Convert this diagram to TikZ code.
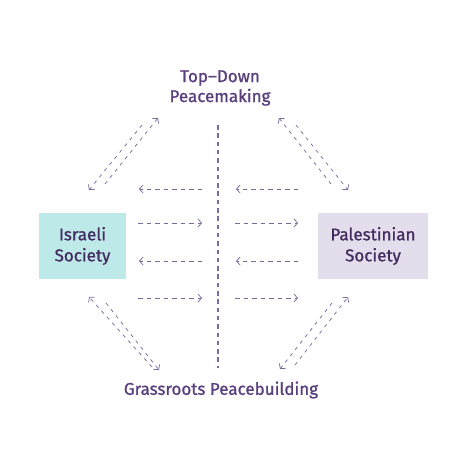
\documentclass[tikz,border=0pt]{standalone}
\usepackage{fontspec}
\setmainfont{Fira Sans}[FakeBold=1.1]
\usetikzlibrary{arrows.meta}
\definecolor{txtpurple}{HTML}{5A3F7E}
\definecolor{boxtxt}{HTML}{432C60}
\definecolor{arrpurple}{HTML}{7C6A9E}
\definecolor{cyanbox}{HTML}{BEE9E9}
\definecolor{lavbox}{HTML}{E4DEEC}
\tikzset{
  lbl/.style={text=txtpurple, font=\fontsize{17}{20}\selectfont, align=center, inner sep=0pt},
  society/.style={text=boxtxt, font=\fontsize{17}{21}\selectfont, align=center, minimum height=66pt, inner sep=0pt},
  flow/.style={draw=arrpurple, line width=0.75pt, dash pattern=on 4.5pt off 4pt, -{Straight Barb[length=3.5pt,width=8pt,line width=0.75pt]}},
  diag/.style={draw=arrpurple, line width=0.75pt, dash pattern=on 3.5pt off 4.5pt, -{Straight Barb[length=3.5pt,width=8pt,line width=0.75pt]}},
  divider/.style={draw=arrpurple, line width=1.1pt, dash pattern=on 4.5pt off 3.8pt}
}
\begin{document}
\begin{tikzpicture}[x=1pt,y=-1pt]
\useasboundingbox (0,0) rectangle (458,455);
\fill[white] (0,0) rectangle (458,455);
% nodes
\node[lbl] (top) at (220,88) {Top--Down\\Peacemaking};
\node[lbl] (bot) at (221,390) {Grassroots Peacebuilding};
\node[society, fill=cyanbox, minimum width=87pt] (isr) at (82.5,246) {Israeli\\Society};
\node[society, fill=lavbox, minimum width=110pt] (pal) at (373,246) {Palestinian\\Society};
% divider
\coordinate (dvT) at (218,125);
\coordinate (dvB) at (218,368);
\draw[divider] (dvT) -- (dvB);
% horizontal flows
\foreach \y/\n in {189/a,261/c}{
  \coordinate (l\n1) at (202,\y); \coordinate (l\n2) at (139,\y);
  \coordinate (r\n1) at (298,\y); \coordinate (r\n2) at (236,\y);
  \draw[flow] (l\n1) -- (l\n2);
  \draw[flow] (r\n1) -- (r\n2);
}
\foreach \y/\n in {223/b,298/d}{
  \coordinate (l\n1) at (138,\y); \coordinate (l\n2) at (202,\y);
  \coordinate (r\n1) at (235,\y); \coordinate (r\n2) at (298,\y);
  \draw[flow] (l\n1) -- (l\n2);
  \draw[flow] (r\n1) -- (r\n2);
}
% top-left pair
\coordinate (tlA1) at (142,125); \coordinate (tlA2) at (89,190);
\coordinate (tlB1) at (105,184); \coordinate (tlB2) at (158,118);
\draw[diag] (tlA1) -- (tlA2);
\draw[diag] (tlB1) -- (tlB2);
% top-right pair
\coordinate (trA1) at (296,125); \coordinate (trA2) at (348,190);
\coordinate (trB1) at (331,184); \coordinate (trB2) at (279,118);
\draw[diag] (trA1) -- (trA2);
\draw[diag] (trB1) -- (trB2);
% bottom-left pair
\coordinate (blA1) at (152,367); \coordinate (blA2) at (89,297);
\coordinate (blB1) at (106,303); \coordinate (blB2) at (159,370);
\draw[diag] (blA1) -- (blA2);
\draw[diag] (blB1) -- (blB2);
% bottom-right pair
\coordinate (brA1) at (295,365); \coordinate (brA2) at (348,297);
\coordinate (brB1) at (332,303); \coordinate (brB2) at (280,369);
\draw[diag] (brA1) -- (brA2);
\draw[diag] (brB1) -- (brB2);
\end{tikzpicture}
\end{document}
